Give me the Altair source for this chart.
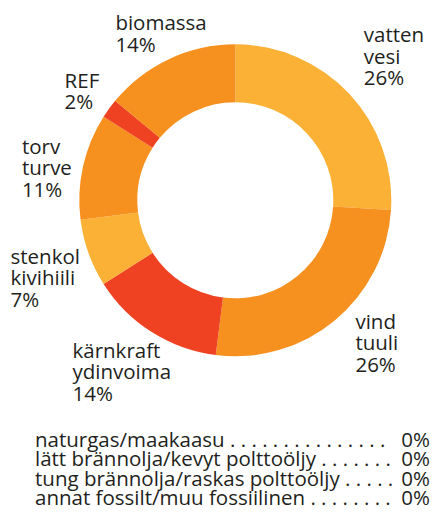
import altair as alt
import pandas as pd

# Donut data (clockwise from 12 o'clock)
swedish = ["vatten", "vind", "kärnkraft", "stenkol", "torv", "REF", "biomassa"]
finnish = ["vesi", "tuuli", "ydinvoima", "kivihiili", "turve", "", ""]
shares = [26, 26, 14, 7, 11, 2, 14]
colors = ["#FBB036", "#F6901E", "#EF4223", "#FBB036", "#F6901E", "#EF4223", "#F6901E"]

# Bottom list
other_names = [
    "naturgas/maakaasu",
    "lätt brännolja/kevyt polttoöljy",
    "tung brännolja/raskas polttoöljy",
    "annat fossilt/muu fossiilinen",
]
other_dots = [15, 7, 5, 8]
other_values = [0, 0, 0, 0]

labels = []
for sv, fi, v in zip(swedish, finnish, shares):
    labels.append(f"{sv}\n{fi}\n{v}%" if fi else f"{sv}\n{v}%")

df = pd.DataFrame({
    "key": swedish,
    "idx": list(range(len(swedish))),
    "share": shares,
    "label": labels,
})

rows = pd.DataFrame({
    "i": list(range(len(other_names))),
    "name": [n + (" " if k != 3 else "  ") + " ".join(["."] * d)
             for k, (n, d) in enumerate(zip(other_names, other_dots))],
    "val": [f"{v}%" for v in other_values],
})

FONT = "Open Sans"
TXT = "#231F20"
W, H = 423, 497
CX, CY = 227.3, 192.3
LABEL_R = 190
# per-label nudges (dx, dy) from the anchor on the label circle
label_nudge = {
    "vatten": (-10, -28),
    "vind": (-1, -18),
    "kärnkraft": (-61, -3),
    "stenkol": (-46, -1),
    "torv": (-28, -5),
    "REF": (-17, -1),
    "biomassa": (-39, 2),
}

theta_scale = alt.Scale(domain=[0, sum(shares)])

arcs = alt.Chart(df).mark_arc(innerRadius=98, outerRadius=156).encode(
    theta=alt.Theta("share:Q", stack=True, scale=theta_scale),
    order=alt.Order("idx:Q"),
    x=alt.value(CX),
    y=alt.value(CY),
    color=alt.Color("key:N", scale=alt.Scale(domain=swedish, range=colors), legend=None),
)

text_base = alt.Chart(df).transform_window(
    cum="sum(share)", sort=[alt.SortField("idx")]
).transform_calculate(mid="datum.cum - datum.share / 2")

layers = [arcs]
for name in swedish:
    ndx, ndy = label_nudge[name]
    layers.append(
        text_base.transform_filter(alt.datum.key == name).mark_text(
            radius=LABEL_R, font=FONT, fontSize=20.5, color=TXT, lineBreak="\n",
            align="left", baseline="alphabetic", lineHeight=21.5, dx=ndx, dy=ndy,
        ).encode(
            theta=alt.Theta("mid:Q", scale=theta_scale),
            x=alt.value(CX),
            y=alt.value(CY),
            text="label:N",
        )
    )

yscale = alt.Scale(domain=[0, 3], range=[439, 497])
names = alt.Chart(rows).mark_text(
    font=FONT, fontSize=20.5, color=TXT, align="left", baseline="alphabetic"
).encode(
    x=alt.value(27),
    y=alt.Y("i:Q", scale=yscale, axis=None),
    text="name:N",
)
vals = alt.Chart(rows).mark_text(
    font=FONT, fontSize=20.5, color=TXT, align="right", baseline="alphabetic"
).encode(
    x=alt.value(W - 1),
    y=alt.Y("i:Q", scale=yscale, axis=None),
    text="val:N",
)
layers += [names, vals]

chart = alt.layer(*layers).properties(
    width=W, height=H,
    autosize=alt.AutoSizeParams(type="fit", contains="padding"),
    padding=0,
).configure_view(stroke=None)

chart.save("out.html", embed_options={"renderer": "svg", "actions": False})
